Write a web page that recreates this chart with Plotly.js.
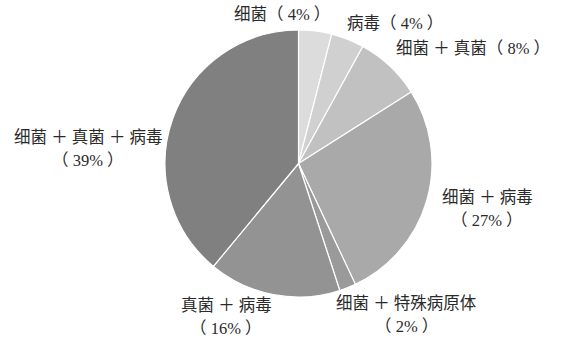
<!DOCTYPE html>
<html>
<head>
<meta charset="utf-8">
<script src="https://cdn.plot.ly/plotly-3.0.1.min.js"></script>
<style>html,body{margin:0;padding:0;background:#fff;}#chart{width:564px;height:342px;}</style>
</head>
<body>
<div id="chart"></div>
<script>
// Data
const categories = ["细菌", "病毒", "细菌＋真菌", "细菌＋病毒", "细菌＋特殊病原体", "真菌＋病毒", "细菌＋真菌＋病毒"];
const labelNames = ["细菌", "病毒", "细菌 ＋ 真菌", "细菌 ＋ 病毒", "细菌 ＋ 特殊病原体", "真菌 ＋ 病毒", "细菌 ＋ 真菌 ＋ 病毒"];
const values = [4, 4, 8, 27, 2, 16, 39];
const colors = ["#dcdcdc", "#d0d0d0", "#c1c1c1", "#a9a9a9", "#9a9a9a", "#939393", "#808080"];

// Label layout (pixel centers): [x, y, twoLine]
const labelPos = [
  [282, 14, false],
  [395, 23, false],
  [473, 48, false],
  [487, 197, true],
  [406, 303, true],
  [226, 305, true],
  [88, 137, true]
];
const lineGap = 23;
const W = 564, H = 342;
const font = {family: "Liberation Serif, 'Noto Sans CJK SC', serif", size: 16.5, color: "#2a2a2a"};

const annotations = [];
categories.forEach((c, i) => {
  const [px, py, two] = labelPos[i];
  const pct = "（ " + values[i] + "% ）";
  if (two) {
    annotations.push({x: px / W, y: 1 - py / H, xref: "paper", yref: "paper", text: labelNames[i], showarrow: false, font: font, xanchor: "center", yanchor: "middle"});
    annotations.push({x: px / W, y: 1 - (py + lineGap) / H, xref: "paper", yref: "paper", text: pct, showarrow: false, font: font, xanchor: "center", yanchor: "middle"});
  } else {
    annotations.push({x: px / W, y: 1 - py / H, xref: "paper", yref: "paper", text: labelNames[i] + pct, showarrow: false, font: font, xanchor: "center", yanchor: "middle"});
  }
});

const cx = 298.5, cy = 163.5, r = 133.5;
const trace = {
  type: "pie",
  labels: categories,
  values: values,
  sort: false,
  direction: "clockwise",
  rotation: 0,
  textinfo: "none",
  hoverinfo: "label+percent",
  marker: {colors: colors, line: {color: "#ffffff", width: 1.2}},
  domain: {x: [(cx - r) / W, (cx + r) / W], y: [1 - (cy + r) / H, 1 - (cy - r) / H]}
};

Plotly.newPlot("chart", [trace], {
  width: W, height: H,
  margin: {l: 0, r: 0, t: 0, b: 0},
  showlegend: false,
  paper_bgcolor: "#ffffff",
  annotations: annotations
}, {staticPlot: true});
</script>
</body>
</html>
